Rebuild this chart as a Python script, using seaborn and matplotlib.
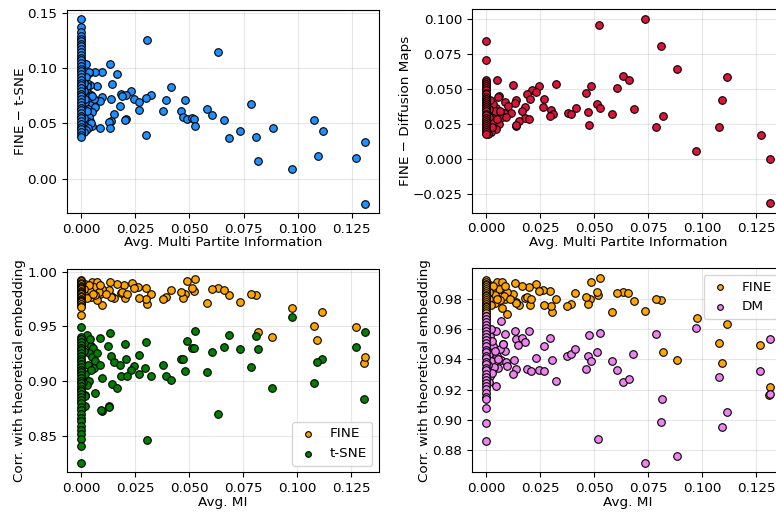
import matplotlib
matplotlib.use('Agg')
import matplotlib.pyplot as plt
import seaborn as sns

# ---- data ----
# top left: FINE - t-SNE vs avg. multi partite information
tl_x = [0.0306, 0.0634, 0.0131, 0.0167, 0.0097, 0.0063, 0.0035, 0.0144, 0.0071, 0.0042,
        0.0414, 0.0231, 0.0182, 0.0208, 0.0190, 0.0324, 0.0298, 0.0242, 0.0269, 0.0139,
        0.0097, 0.0478, 0.0392, 0.0785, 0.0088, 0.0060, 0.0035, 0.0180, 0.0267, 0.0377,
        0.0461, 0.0582, 0.0153, 0.0605, 0.0472, 0.0488, 0.0514, 0.0520, 0.0659, 0.1077,
        0.0137, 0.0127, 0.0207, 0.0201, 0.0525, 0.0884, 0.0735, 0.1116, 0.0809, 0.0684,
        0.0299, 0.0134, 0.0088, 0.0048, 0.0039, 0.0054, 0.0060, 0.1310, 0.1093, 0.1269,
        0.0816, 0.0972, 0.1309,
        0.0023, 0.0035, 0.0028, 0.0025, 0.0030, 0.0045, 0.0038, 0.0052, 0.0028, 0.0042,
        0.0065, 0.0031, 0.0048, 0.0020, 0.0036, 0.0027, 0.0044, 0.0018, 0.0033, 0.0022,
        0.0015, 0.0012, 0.0010, 0.0016, 0.0021, 0.0014, 0.0026, 0.0011, 0.0019, 0.0013,
        0.0, 0.0, 0.0, 0.0, 0.0, 0.0, 0.0, 0.0, 0.0, 0.0, 0.0, 0.0, 0.0, 0.0, 0.0, 0.0,
        0.0, 0.0, 0.0, 0.0, 0.0, 0.0, 0.0, 0.0, 0.0, 0.0, 0.0, 0.0, 0.0, 0.0, 0.0, 0.0,
        0.0, 0.0, 0.0, 0.0, 0.0, 0.0, 0.0, 0.0, 0.0]
tl_y = [0.1252, 0.1150, 0.1036, 0.0952, 0.0967, 0.0967, 0.0955, 0.0856, 0.0841, 0.0850,
        0.0826, 0.0796, 0.0766, 0.0754, 0.0748, 0.0754, 0.0727, 0.0724, 0.0694, 0.0721,
        0.0742, 0.0715, 0.0712, 0.0673, 0.0700, 0.0721, 0.0742, 0.0658, 0.0625, 0.0613,
        0.0613, 0.0628, 0.0583, 0.0574, 0.0562, 0.0544, 0.0550, 0.0538, 0.0529, 0.0532,
        0.0526, 0.0517, 0.0538, 0.0532, 0.0477, 0.0462, 0.0429, 0.0435, 0.0378, 0.0366,
        0.0399, 0.0459, 0.0459, 0.0480, 0.0526, 0.0631, 0.0652, 0.0336, 0.0204, 0.0189,
        0.0159, 0.0084, -0.0228,
        0.1039, 0.0964, 0.0862, 0.0840, 0.0780, 0.0760, 0.0735, 0.0745, 0.0700, 0.0665,
        0.0650, 0.0630, 0.0600, 0.0570, 0.0555, 0.0520, 0.0505, 0.0480, 0.0460, 0.0440,
        0.0420, 0.0900, 0.0820, 0.0690, 0.0925, 0.0790, 0.0610, 0.0545, 0.0720, 0.0865,
        0.1444, 0.1370, 0.1325, 0.1294, 0.1268, 0.1246, 0.1221, 0.1197, 0.1170, 0.1146,
        0.1121, 0.1094, 0.1071, 0.1046, 0.1019, 0.0996, 0.0971, 0.0944, 0.0921, 0.0896,
        0.0869, 0.0846, 0.0821, 0.0794, 0.0771, 0.0746, 0.0719, 0.0696, 0.0671, 0.0644,
        0.0621, 0.0596, 0.0569, 0.0546, 0.0521, 0.0494, 0.0471, 0.0446, 0.0419, 0.0396,
        0.0375]

# top right: FINE - Diffusion Maps
tr_x = [0.0735, 0.0520, 0.0809, 0.0883, 0.0633, 0.0659, 0.1116, 0.1093, 0.0048, 0.0123,
        0.0323, 0.0244, 0.0486, 0.0463, 0.0606, 0.0210, 0.0231, 0.0188, 0.0205, 0.0269,
        0.0512, 0.0136, 0.0414, 0.0525, 0.0682, 0.0265, 0.0179, 0.0299, 0.0472, 0.0307,
        0.0377, 0.0394, 0.0582, 0.0818, 0.0295, 0.0180, 0.0200, 0.0167, 0.0151, 0.0140,
        0.0478, 0.0787, 0.1077, 0.1270, 0.0972, 0.1312, 0.1312, 0.0134,
        0.0060, 0.0054, 0.0086, 0.0099, 0.0116, 0.0081, 0.0046, 0.0031, 0.0074, 0.0060,
        0.0046, 0.0023, 0.0010, 0.0138, 0.0035, 0.0030, 0.0040, 0.0065, 0.0020, 0.0015,
        0.0028, 0.0050, 0.0090, 0.0012,
        0.0, 0.0, 0.0, 0.0, 0.0, 0.0, 0.0, 0.0, 0.0, 0.0, 0.0, 0.0, 0.0, 0.0, 0.0,
        0.0, 0.0, 0.0, 0.0, 0.0, 0.0, 0.0, 0.0, 0.0, 0.0, 0.0, 0.0, 0.0, 0.0]
tr_y = [0.1004, 0.0959, 0.0805, 0.0641, 0.0596, 0.0565, 0.0586, 0.0423, 0.0563, 0.0529,
        0.0537, 0.0522, 0.0525, 0.0472, 0.0506, 0.0494, 0.0482, 0.0465, 0.0430, 0.0430,
        0.0396, 0.0423, 0.0366, 0.0361, 0.0354, 0.0373, 0.0375, 0.0351, 0.0337, 0.0323,
        0.0328, 0.0321, 0.0321, 0.0309, 0.0304, 0.0294, 0.0287, 0.0340, 0.0271, 0.0237,
        0.0245, 0.0230, 0.0226, 0.0173, 0.0059, 0.0000, -0.0318, 0.0401,
        0.0453, 0.0442, 0.0408, 0.0382, 0.0328, 0.0328, 0.0366, 0.0394, 0.0300, 0.0252,
        0.0211, 0.0190, 0.0178, 0.0240, 0.0318, 0.0270, 0.0345, 0.0340, 0.0420, 0.0300,
        0.0230, 0.0285, 0.0300, 0.0360,
        0.0845, 0.0708, 0.0567, 0.0551, 0.0534, 0.0521, 0.0504, 0.0491, 0.0474, 0.0461,
        0.0444, 0.0431, 0.0414, 0.0401, 0.0384, 0.0371, 0.0354, 0.0341, 0.0324, 0.0311,
        0.0294, 0.0281, 0.0264, 0.0251, 0.0234, 0.0221, 0.0204, 0.0191, 0.0178]

# bottom: correlation with theoretical embedding
fine_x = [0.0306, 0.0634, 0.1309, 0.1312, 0.1269, 0.1116, 0.1093, 0.1077, 0.0975, 0.0884,
          0.0818, 0.0809, 0.0785, 0.0735, 0.0684, 0.0659, 0.0605, 0.0582, 0.0526, 0.0520,
          0.0514, 0.0488, 0.0480, 0.0472, 0.0461, 0.0414, 0.0392, 0.0377, 0.0324, 0.0298,
          0.0299, 0.0264, 0.0268, 0.0233, 0.0244, 0.0199, 0.0205, 0.0182, 0.0190, 0.0210,
          0.0168, 0.0134, 0.0153, 0.0139, 0.0137, 0.0127, 0.0097, 0.0088, 0.0063, 0.0071,
          0.0042, 0.0035,
          0.0020, 0.0051, 0.0074, 0.0059, 0.0097, 0.0082, 0.0113, 0.0044, 0.0074, 0.0030,
          0.0040, 0.0015, 0.0025, 0.0065, 0.0035, 0.0012, 0.0088, 0.0053,
          0.0, 0.0, 0.0, 0.0, 0.0, 0.0, 0.0, 0.0, 0.0, 0.0, 0.0, 0.0, 0.0, 0.0, 0.0,
          0.0, 0.0, 0.0, 0.0, 0.0, 0.0, 0.0]
fine_y = [0.9708, 0.9846, 0.9163, 0.9217, 0.9497, 0.9633, 0.9373, 0.9506, 0.9669, 0.9398,
          0.9449, 0.9789, 0.9798, 0.9720, 0.9786, 0.9834, 0.9837, 0.9711, 0.9937, 0.9825,
          0.9846, 0.9910, 0.9800, 0.9762, 0.9810, 0.9834, 0.9765, 0.9753, 0.9795, 0.9849,
          0.9753, 0.9857, 0.9755, 0.9894, 0.9852, 0.9876, 0.9757, 0.9804, 0.9810, 0.9800,
          0.9885, 0.9903, 0.9756, 0.9780, 0.9770, 0.9830, 0.9696, 0.9800, 0.9880, 0.9860,
          0.9840, 0.9870,
          0.9890, 0.9906, 0.9906, 0.9860, 0.9845, 0.9815, 0.9800, 0.9770, 0.9740, 0.9850,
          0.9820, 0.9800, 0.9760, 0.9790, 0.9880, 0.9840, 0.9880, 0.9800,
          0.9922, 0.9911, 0.9897, 0.9887, 0.9873, 0.9863, 0.9849, 0.9839, 0.9825, 0.9815,
          0.9801, 0.9791, 0.9777, 0.9767, 0.9753, 0.9743, 0.9729, 0.9718, 0.9704, 0.9688,
          0.9680, 0.9604]

tsne_x = [0.0975, 0.0526, 0.0134, 0.1312, 0.0684, 0.0809, 0.0488, 0.0088, 0.0202, 0.0298,
          0.0123, 0.0659, 0.0514, 0.0520, 0.0735, 0.0818, 0.1269, 0.0605, 0.0267, 0.0136,
          0.0207, 0.0461, 0.0472, 0.1116, 0.1093, 0.0153, 0.0377, 0.0180, 0.0785, 0.0244,
          0.0296, 0.0231, 0.0480, 0.0582, 0.0268, 0.0185, 0.0210, 0.0324, 0.0392, 0.0414,
          0.0097, 0.0144, 0.0167, 0.0884, 0.1077, 0.0063, 0.1309, 0.0131, 0.0096, 0.0634,
          0.0306,
          0.0032, 0.0046, 0.0025, 0.0040, 0.0055, 0.0035, 0.0050, 0.0065, 0.0030, 0.0058,
          0.0045, 0.0020, 0.0038, 0.0026, 0.0020, 0.0016, 0.0017, 0.0093, 0.0130, 0.0075,
          0.0085, 0.0012, 0.0010,
          0.0, 0.0, 0.0, 0.0, 0.0, 0.0, 0.0, 0.0, 0.0, 0.0, 0.0, 0.0, 0.0, 0.0, 0.0, 0.0,
          0.0, 0.0, 0.0, 0.0, 0.0, 0.0, 0.0, 0.0, 0.0, 0.0, 0.0, 0.0, 0.0, 0.0, 0.0, 0.0,
          0.0, 0.0, 0.0, 0.0, 0.0]
tsne_y = [0.9587, 0.9460, 0.9443, 0.9449, 0.9422, 0.9413, 0.9370, 0.9395, 0.9340, 0.9355,
          0.9320, 0.9310, 0.9298, 0.9298, 0.9292, 0.9290, 0.9310, 0.9265, 0.9238, 0.9232,
          0.9202, 0.9202, 0.9202, 0.9202, 0.9172, 0.9178, 0.9142, 0.9145, 0.9127, 0.9136,
          0.9123, 0.9096, 0.9087, 0.9084, 0.9063, 0.9045, 0.9050, 0.9048, 0.9050, 0.9012,
          0.9027, 0.8973, 0.8934, 0.8940, 0.8979, 0.8892, 0.8831, 0.8768, 0.8729, 0.8702,
          0.8461,
          0.9343, 0.9318, 0.9420, 0.9385, 0.9300, 0.9260, 0.9220, 0.9180, 0.9150, 0.9120,
          0.9100, 0.9060, 0.9000, 0.8960, 0.8875, 0.8860, 0.8767, 0.8739, 0.8766, 0.9260,
          0.9150, 0.9270, 0.8990,
          0.9497, 0.9406, 0.9381, 0.9354, 0.9331, 0.9304, 0.9281, 0.9254, 0.9231, 0.9204,
          0.9181, 0.9154, 0.9131, 0.9104, 0.9081, 0.9054, 0.9031, 0.9004, 0.8981, 0.8954,
          0.8931, 0.8904, 0.8881, 0.8854, 0.8826, 0.8794, 0.8766, 0.8734, 0.8701, 0.8664,
          0.8631, 0.8589, 0.8551, 0.8513, 0.8467, 0.8406, 0.8249]

dm_x = [0.0477, 0.0526, 0.0472, 0.0488, 0.0461, 0.0512, 0.0583, 0.0605, 0.0633, 0.0661,
        0.0682, 0.0786, 0.0816, 0.0809, 0.0736, 0.0884, 0.0520, 0.0972, 0.1077, 0.1114,
        0.1094, 0.1270, 0.1312, 0.1312,
        0.0069, 0.0134, 0.0201, 0.0045, 0.0086, 0.0140, 0.0168, 0.0182, 0.0148, 0.0269,
        0.0296, 0.0090, 0.0077, 0.0377, 0.0394, 0.0414, 0.0231, 0.0304, 0.0069, 0.0093,
        0.0099, 0.0057, 0.0131, 0.0137, 0.0188, 0.0208, 0.0244, 0.0269, 0.0123, 0.0323,
        0.0048,
        0.0019, 0.0034, 0.0013, 0.0025, 0.0050, 0.0037, 0.0019, 0.0065, 0.0080, 0.0028,
        0.0042, 0.0010, 0.0030, 0.0055, 0.0015, 0.0022,
        0.0, 0.0, 0.0, 0.0, 0.0, 0.0, 0.0, 0.0, 0.0, 0.0, 0.0, 0.0, 0.0, 0.0, 0.0, 0.0,
        0.0, 0.0, 0.0, 0.0, 0.0, 0.0, 0.0, 0.0, 0.0, 0.0, 0.0, 0.0, 0.0, 0.0, 0.0]
dm_y = [0.9557, 0.9573, 0.9424, 0.9389, 0.9338, 0.9450, 0.9389, 0.9332, 0.9251, 0.9270,
        0.9432, 0.9568, 0.9137, 0.8986, 0.8716, 0.8762, 0.8876, 0.9605, 0.9281, 0.9050,
        0.8955, 0.9323, 0.9535, 0.9168,
        0.9651, 0.9588, 0.9588, 0.9583, 0.9566, 0.9533, 0.9542, 0.9511, 0.9494, 0.9487,
        0.9542, 0.9456, 0.9500, 0.9421, 0.9437, 0.9470, 0.9408, 0.9397, 0.9393, 0.9382,
        0.9358, 0.9345, 0.9397, 0.9336, 0.9334, 0.9325, 0.9327, 0.9325, 0.9303, 0.9257,
        0.9222,
        0.9555, 0.9490, 0.9435, 0.9391, 0.9424, 0.9347, 0.9292, 0.9468, 0.9500, 0.9520,
        0.9455, 0.9360, 0.9310, 0.9400, 0.9250, 0.9600,
        0.9686, 0.9664, 0.9646, 0.9624, 0.9606, 0.9584, 0.9566, 0.9544, 0.9526, 0.9504,
        0.9486, 0.9464, 0.9446, 0.9424, 0.9406, 0.9384, 0.9366, 0.9344, 0.9326, 0.9304,
        0.9286, 0.9264, 0.9246, 0.9224, 0.9201, 0.9176, 0.9152, 0.9139, 0.9078, 0.8977,
        0.8859]

FS = 9.7
sns.set_theme(style='ticks', rc={
    'axes.edgecolor': 'black', 'axes.linewidth': 0.8,
    'xtick.color': 'black', 'ytick.color': 'black',
    'xtick.major.size': 3.5, 'ytick.major.size': 3.5,
    'xtick.major.width': 0.8, 'ytick.major.width': 0.8,
    'text.color': 'black', 'axes.labelcolor': 'black',
    'font.size': FS, 'axes.labelsize': FS,
    'xtick.labelsize': FS, 'ytick.labelsize': FS, 'legend.fontsize': FS,
    'axes.labelpad': 0.5,
    'axes.grid': True, 'grid.color': '#b0b0b0', 'grid.alpha': 0.3, 'grid.linewidth': 0.8,
})
plt.rcParams['font.family'] = ['DejaVu Sans']

fig = plt.figure(figsize=(7.76, 5.15), dpi=100)
ax_tl = fig.add_axes([0.0863, 0.5864, 0.4021, 0.3942])
ax_tr = fig.add_axes([0.6082, 0.5870, 0.4021, 0.3950])
ax_bl = fig.add_axes([0.0863, 0.0829, 0.4021, 0.3942])
ax_br = fig.add_axes([0.6079, 0.0829, 0.4021, 0.3958])

kw = dict(edgecolor='black', linewidth=0.8, s=30)


def dots(ax, x, y, color, label=None):
    sns.scatterplot(x=x, y=y, color=color, ax=ax, label=label, **kw)


dots(ax_tl, tl_x, tl_y, '#1E90FF')
ax_tl.set_xlabel('Avg. Multi Partite Information')
ax_tl.set_ylabel('FINE \u2212 t-SNE')

dots(ax_tr, tr_x, tr_y, '#DC143C')
ax_tr.set_xlabel('Avg. Multi Partite Information')
ax_tr.set_ylabel('FINE \u2212 Diffusion Maps')

dots(ax_bl, fine_x, fine_y, 'orange', 'FINE')
dots(ax_bl, tsne_x, tsne_y, 'green', 't-SNE')
ax_bl.set_xlabel('Avg. MI')
ax_bl.set_ylabel('Corr. with theoretical embedding')
ax_bl.legend(loc='lower right', markerscale=0.75, handlelength=1.6)

dots(ax_br, fine_x, fine_y, 'orange', 'FINE')
dots(ax_br, dm_x, dm_y, 'violet', 'DM')
ax_br.set_xlabel('Avg. MI')
ax_br.set_ylabel('Corr. with theoretical embedding')
ax_br.legend(loc='upper right', markerscale=0.75, handlelength=1.6)

for ax in (ax_tl, ax_tr, ax_bl, ax_br):
    ax.set_xticks([0.0, 0.025, 0.05, 0.075, 0.1, 0.125])
    ax.set_xticklabels(['0.000', '0.025', '0.050', '0.075', '0.100', '0.125'])

ax_tl.set_yticks([0.0, 0.05, 0.10, 0.15])
ax_tr.set_yticks([-0.025, 0.0, 0.025, 0.05, 0.075, 0.1])
ax_tr.set_yticklabels(['\u22120.025', '0.000', '0.025', '0.050', '0.075', '0.100'])
ax_bl.set_yticks([0.85, 0.90, 0.95, 1.00])
ax_br.set_yticks([0.88, 0.90, 0.92, 0.94, 0.96, 0.98])

plt.savefig('out.png', dpi=100)
